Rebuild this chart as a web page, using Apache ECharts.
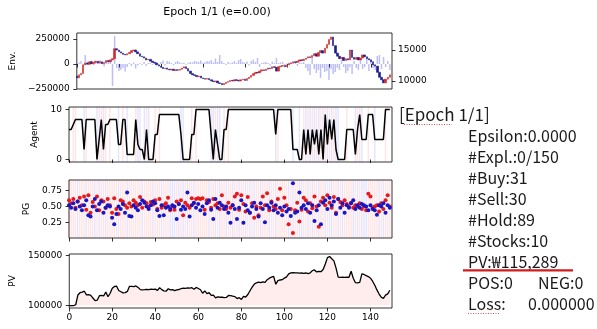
<!DOCTYPE html>
<html>
<head>
<meta charset="utf-8">
<script src="https://cdn.jsdelivr.net/npm/echarts@6/dist/echarts.min.js"></script>
<style>
  html, body { margin: 0; padding: 0; background: #fff; }
  #chart { width: 597px; height: 329px; }
</style>
</head>
<body>
<div id="chart"></div>
<script>
// Price levels at step boundaries: candle i runs from prices[i] to prices[i + 1]
const prices = [
  10800,10500,11000,11200,12600,12900,12700,13100,12800,13000,
  13200,12900,13100,12800,13000,13300,13100,13400,13600,15200,
  15000,14700,14500,14300,14200,14400,14600,14900,15000,14700,
  14400,14000,13900,13700,13400,13500,13200,13000,12900,12600,
  12400,12200,12000,12100,11900,11800,11900,11700,11800,11750,
  11900,12100,12300,12000,11600,11200,11000,10900,10700,10800,
  10500,10400,10300,10400,10200,10000,9900,10000,9700,9600,
  9400,9600,9800,9900,10100,10000,10200,10100,10000,10200,
  10300,10100,10400,10600,10900,11200,11400,11300,11600,11800,
  11700,11900,12100,12000,12300,12200,11600,12300,12400,12500,
  12300,12600,12800,12900,13100,13000,13200,13400,13300,13500,
  13700,13900,13800,14100,14400,14000,14600,14900,14500,15300,
  15900,16700,17100,15700,14500,14000,13600,13800,13300,13600,
  13400,15000,13800,13500,13800,13400,13700,14200,13900,13600,
  13400,13100,12600,12400,11400,10600,10200,9700,10300,10600,
  11000
];

// Volume change per step (left axis of the environment panel)
const volumes = [
  -20000,15000,30000,-15000,90000,25000,20000,35000,-10000,30000,
  25000,40000,20000,-25000,30000,15000,45000,-220000,280000,-40000,
  -70000,-60000,-40000,-75000,-30000,10000,-20000,15000,-45000,-15000,
  8000,-10000,20000,-20000,10000,12000,-8000,25000,15000,-10000,
  20000,35000,-15000,30000,25000,10000,-12000,20000,30000,15000,
  8000,12000,-8000,10000,20000,15000,30000,25000,20000,35000,
  10000,20000,30000,25000,40000,15000,55000,20000,90000,30000,
  10000,-10000,20000,8000,15000,30000,10000,40000,50000,20000,
  12000,25000,-15000,30000,45000,20000,60000,-30000,10000,15000,
  20000,10000,-15000,25000,12000,60000,10000,15000,20000,-10000,
  8000,15000,20000,10000,25000,-20000,15000,10000,20000,-40000,
  -70000,-110000,60000,-50000,-90000,-60000,-140000,-40000,-80000,-70000,
  -160000,-50000,-100000,-80000,-40000,-60000,40000,-30000,-90000,-70000,
  -30000,-100000,30000,-40000,-60000,50000,-50000,-30000,60000,-70000,
  50000,-40000,-60000,80000,90000,-50000,70000,-30000,30000,-60000
];

// Number of shares held after each step
const holdings = [
  6,6,7,8,8,8,8,2,8,8,
  8,8,8,0,4,8,2,7,7,8,
  8,8,8,3,3,8,8,1,1,1,
  1,8,3,2,2,0,6,0,0,0,
  5,5,9,9,9,9,9,9,9,9,
  9,9,5,0,0,0,0,5,5,10,
  10,10,10,10,10,10,5,0,6,3,
  0,0,6,6,10,10,10,10,10,10,
  10,10,10,10,10,10,10,10,10,10,
  10,10,10,10,10,10,5,10,10,10,
  10,10,10,10,2,2,2,0,0,6,
  1,6,1,6,3,6,1,6,0,9,
  3,8,4,8,2,0,0,0,0,6,
  6,6,6,1,6,9,4,4,4,9,
  9,9,4,4,4,4,4,10,10,10
];

// Steps where the agent bought / sold
const buySteps = [2,3,8,14,15,17,19,25,31,36,40,42,57,59,68,72,74,97,109,111,113,115,117,119,121,123,129,134,135,139,147];
const sellSteps = [7,13,16,23,27,32,33,35,37,52,53,66,67,69,70,96,104,107,110,112,114,116,118,120,122,124,125,133,136,142];

// Policy network outputs
const probBuy = [
  .60,.55,.62,.48,.58,.64,.52,.66,.45,.68,
  .40,.57,.50,.66,.44,.60,.58,.48,.62,.52,
  .40,.63,.46,.38,.60,.58,.52,.48,.55,.50,
  .60,.56,.52,.65,.48,.58,.55,.50,.57,.53,
  .60,.46,.62,.48,.52,.55,.64,.44,.50,.45,
  .58,.54,.60,.36,.56,.52,.48,.63,.55,.62,
  .63,.62,.63,.45,.60,.57,.48,.62,.52,.55,
  .46,.68,.50,.46,.56,.48,.52,.66,.70,.45,
  .68,.54,.42,.65,.40,.55,.32,.50,.36,.48,
  .66,.52,.71,.44,.58,.50,.46,.62,.78,.44,
  .64,.52,.22,.46,.08,.44,.56,.26,.45,.64,
  .60,.42,.55,.47,.66,.50,.18,.58,.64,.52,
  .68,.56,.48,.65,.40,.62,.57,.52,.60,.54,
  .50,.56,.48,.52,.50,.55,.46,.50,.44,.70,
  .66,.48,.50,.52,.42,.55,.46,.60,.68,.50
];
const probSell = [
  .52,.48,.55,.46,.58,.50,.44,.52,.60,.36,
  .34,.50,.62,.44,.54,.58,.40,.48,.52,.50,
  .32,.22,.38,.50,.46,.54,.40,.72,.35,.34,
  .52,.48,.44,.54,.60,.56,.50,.46,.52,.58,
  .55,.44,.35,.52,.36,.48,.50,.46,.52,.50,
  .30,.54,.45,.50,.46,.72,.34,.52,.56,.48,
  .54,.44,.50,.38,.55,.60,.45,.30,.62,.48,
  .56,.52,.46,.50,.40,.24,.52,.46,.30,.48,
  .60,.24,.52,.44,.40,.50,.56,.46,.34,.55,
  .46,.25,.52,.48,.56,.44,.52,.40,.48,.36,
  .50,.42,.46,.35,.87,.40,.42,.72,.48,.52,
  .46,.55,.40,.52,.27,.44,.52,.22,.56,.60,
  .46,.64,.52,.58,.38,.62,.48,.55,.40,.52,
  .48,.55,.60,.46,.52,.48,.54,.52,.50,.44,
  .52,.46,.44,.37,.52,.50,.55,.40,.52,.48
];

// Portfolio value after each step
const portfolio = [
  100000,100000,100000,100800,110500,112800,113400,114300,110600,111000,
  110200,107500,104900,105300,109800,110200,109600,113500,108800,112300,
  117200,119000,119300,115000,113800,112600,112900,114100,119200,119100,
  118800,119600,118100,115900,115700,115800,116200,115900,116300,116100,
  116400,115200,117800,115900,114700,114300,116800,115600,115900,114900,
  115700,116000,116900,117300,117200,117600,117400,117800,116200,118100,
  117000,115800,112300,114600,111900,112800,110100,110400,107700,108600,
  108300,108500,107900,108100,110100,109800,109300,108900,107000,107800,
  106100,109200,108500,111000,114800,118300,121400,122700,123300,122800,
  123600,123100,125800,127300,128300,129100,121300,124900,125500,125800,
  127400,128600,131600,132600,132900,132600,132700,132400,132500,132200,
  132500,131900,132700,134900,135500,133500,134200,133800,135900,141500,
  147800,149000,146700,144600,137300,128400,128200,128300,128100,128400,
  128200,134200,127300,122800,122600,123100,131600,131000,129800,128900,
  127300,124300,120200,115600,111500,108300,107100,110400,111600,115289
];
const initialBalance = 100000;

// Tick positions
const stepTicks = [0, 20, 40, 60, 80, 100, 120, 140];
const envTicks = [-250000, 0, 250000];
const priceTicks = [10000, 15000];
const agentTicks = [0, 10];
const pgTicks = [0.25, 0.5, 0.75];
const pvTicks = [100000, 150000];

// Status panel text
const epochLabel = '[Epoch 1/1]';
const statusLines = ['Epsilon:0.0000', '#Expl.:0/150', '#Buy:31', '#Sell:30', '#Hold:89', '#Stocks:10', 'PV:\u20A9115,289'];
const posLabel = 'POS:0';
const negLabel = 'NEG:0';
const lossLabel = 'Loss:';
const lossValue = '0.000000';
const chartTitle = 'Epoch 1/1 (e=0.00)';

const FONT = 'DejaVu Sans';
const TEXT_FONT = '"Noto Sans CJK KR", "Open Sans", sans-serif';
const TEXT_SIZE = '16px ';
const TEXT_COLOR = '#1a1a1a';
const tickStyle = { show: true, inside: false, length: 3.5, lineStyle: { color: '#000', width: 0.8 } };

const grids = [
  { left: 69, width: 323, top: 33, height: 56 },
  { left: 69, width: 323, top: 107, height: 55 },
  { left: 69, width: 323, top: 180, height: 58 },
  { left: 69, width: 323, top: 254, height: 54 }
].map(g => Object.assign({ show: true, borderColor: '#000', borderWidth: 0.8, backgroundColor: '#fff', containLabel: false }, g));

const xAxes = grids.map((g, i) => ({
  type: 'value', gridIndex: i, min: 0, max: 150, interval: 20,
  axisLine: { show: false },
  axisTick: Object.assign({ customValues: stepTicks }, tickStyle),
  axisLabel: { show: i === 3, customValues: stepTicks, color: '#000', fontFamily: FONT, fontSize: 9, margin: 5 },
  splitLine: { show: false }
}));

function yAxis(gridIndex, min, max, ticks, opts) {
  return Object.assign({
    type: 'value', gridIndex, min, max,
    axisLine: { show: false },
    axisTick: Object.assign({ customValues: ticks }, tickStyle),
    axisLabel: { customValues: ticks, color: '#000', fontFamily: FONT, fontSize: 9, margin: 7,
      formatter: v => String(v).replace('-', '\u2212') },
    splitLine: { show: false },
    nameLocation: 'middle', nameRotate: 90,
    nameTextStyle: { color: '#000', fontFamily: FONT, fontSize: 9 }
  }, opts);
}

const yAxes = [
  yAxis(0, -250000, 310000, envTicks, { name: 'Env.', nameGap: 57 }),
  yAxis(0, 8710, 17742, priceTicks, { position: 'right' }),
  yAxis(1, -0.5, 10.5, agentTicks, { name: 'Agent', nameGap: 24 }),
  yAxis(2, 0, 0.92, pgTicks, { name: 'PG', nameGap: 32 }),
  yAxis(3, 97550, 151450, pvTicks, { name: 'PV', nameGap: 50 })
];
yAxes[1].axisLabel.margin = 6;
yAxes[3].axisLabel.formatter = v => v.toFixed(2);

const candles = prices.slice(0, -1).map((open, i) => {
  const close = prices[i + 1];
  return [i, open, close, Math.min(open, close), Math.max(open, close)];
});

// Faint vertical marker across the whole plot height
function stepLineRenderer(colors) {
  return function (params, api) {
    const cs = params.coordSys;
    const x = api.coord([api.value(0), 0])[0];
    return {
      type: 'line',
      shape: { x1: x, y1: cs.y, x2: x, y2: cs.y + cs.height },
      style: { stroke: colors[api.value(1)], lineWidth: 1.5 }
    };
  };
}
const actionMarks = buySteps.map(s => [s, 0]).concat(sellSteps.map(s => [s, 1]));
const policyMarks = probBuy.map((p, i) => [i, p > probSell[i] ? 0 : 1]);
const markColors = ['rgba(255,0,0,0.1)', 'rgba(0,0,255,0.1)'];

function statusText(text, x, y, size) {
  return { type: 'text', x, y,
    style: { text, font: (size || TEXT_SIZE) + TEXT_FONT, fill: TEXT_COLOR, align: 'left', verticalAlign: 'middle' } };
}
const LINE0 = 135.5, LINE_STEP = 21.08;

const chart = echarts.init(document.getElementById('chart'), null, { renderer: 'canvas' });
chart.setOption({
  animation: false,
  backgroundColor: '#fff',
  grid: grids,
  xAxis: xAxes,
  yAxis: yAxes,
  series: [
    {
      type: 'bar', xAxisIndex: 0, yAxisIndex: 0, barWidth: 1.5,
      data: volumes.map((v, i) => [i, v]),
      itemStyle: { color: 'rgba(40,40,230,0.3)' }, z: 1
    },
    {
      type: 'candlestick', xAxisIndex: 0, yAxisIndex: 1, barWidth: 2,
      data: candles,
      itemStyle: { color: '#d42a2a', color0: '#1c1c8c', borderColor: '#d42a2a', borderColor0: '#1c1c8c', borderWidth: 0.6 },
      z: 3
    },
    {
      type: 'custom', xAxisIndex: 1, yAxisIndex: 2, data: actionMarks,
      renderItem: stepLineRenderer(markColors), silent: true, z: 1
    },
    {
      type: 'line', xAxisIndex: 1, yAxisIndex: 2, showSymbol: false, symbol: 'none',
      data: holdings.map((v, i) => [i, v]),
      lineStyle: { color: '#000', width: 1.5 }, z: 3
    },
    {
      type: 'custom', xAxisIndex: 2, yAxisIndex: 3, data: policyMarks,
      renderItem: stepLineRenderer(markColors), silent: true, z: 1
    },
    {
      type: 'scatter', xAxisIndex: 2, yAxisIndex: 3, symbolSize: 4,
      data: probBuy.map((v, i) => [i, v]),
      itemStyle: { color: '#e81818', opacity: 1 }, z: 3
    },
    {
      type: 'scatter', xAxisIndex: 2, yAxisIndex: 3, symbolSize: 4,
      data: probSell.map((v, i) => [i, v]),
      itemStyle: { color: '#1616c4', opacity: 1 }, z: 4
    },
    {
      type: 'line', xAxisIndex: 3, yAxisIndex: 4, showSymbol: false, symbol: 'none',
      data: portfolio.map((v, i) => [i, v]),
      lineStyle: { color: '#000', width: 1.3 },
      areaStyle: { color: 'rgba(255,0,0,0.1)', origin: initialBalance }, z: 3
    }
  ],
  graphic: [
    { type: 'text', x: 217, y: 12,
      style: { text: chartTitle, font: '11px "DejaVu Sans"', fill: '#000', align: 'center', verticalAlign: 'middle' } },
    statusText(epochLabel, 399, 115, '17px ')
  ].concat(statusLines.map((t, k) => statusText(t, 468, LINE0 + k * LINE_STEP)))
   .concat([
    statusText(posLabel, 468, LINE0 + 7 * LINE_STEP),
    statusText(negLabel, 538, LINE0 + 7 * LINE_STEP),
    statusText(lossLabel, 468, LINE0 + 8 * LINE_STEP),
    statusText(lossValue, 528, LINE0 + 8 * LINE_STEP),
    { type: 'line', shape: { x1: 463, y1: 270.3, x2: 573, y2: 270.3 },
      style: { stroke: '#d01c1c', lineWidth: 2.2 } },
    { type: 'line', shape: { x1: 404, y1: 124.5, x2: 452, y2: 124.5 },
      style: { stroke: '#e05050', lineWidth: 1, lineDash: [1, 1.5] } },
    { type: 'line', shape: { x1: 468, y1: 313.5, x2: 500, y2: 313.5 },
      style: { stroke: '#e05050', lineWidth: 1, lineDash: [1, 1.5] } }
  ])
});
</script>
</body>
</html>
